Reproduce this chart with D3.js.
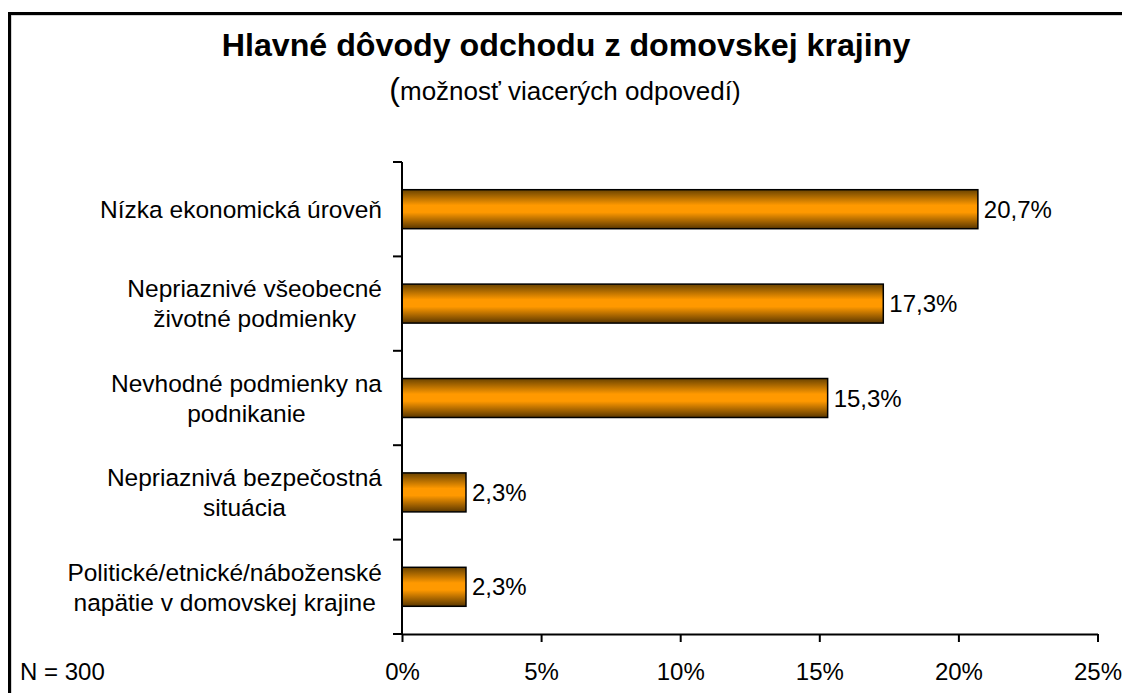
<!DOCTYPE html>
<html>
<head>
<meta charset="utf-8">
<script src="https://cdn.jsdelivr.net/npm/d3@7"></script>
<style>
    body { margin: 0; background: #fff; }
    text { font-family: Arial, "Liberation Sans", sans-serif; fill: #000; }
</style>
</head>
<body>
<div id="chart"></div>
<script>
const categories = [
    ["Nízka ekonomická úroveň"],
    ["Nepriaznivé všeobecné", "životné podmienky"],
    ["Nevhodné podmienky na", "podnikanie"],
    ["Nepriaznivá bezpečostná", "situácia"],
    ["Politické/etnické/náboženské", "napätie v domovskej krajine"]
];
const values = [20.7, 17.3, 15.3, 2.3, 2.3];
const xTicks = [0, 5, 10, 15, 20, 25];

const width = 1122, height = 693;
const svg = d3.select("#chart").append("svg")
    .attr("width", width)
    .attr("height", height);

// frame
svg.append("rect")
    .attr("x", 11).attr("y", 15)
    .attr("width", 1200).attr("height", 800)
    .attr("fill", "none")
    .attr("stroke", "#aaa")
    .attr("stroke-width", 1);
svg.append("rect")
    .attr("x", 9.5).attr("y", 13.5)
    .attr("width", 1200).attr("height", 800)
    .attr("fill", "none")
    .attr("stroke", "#000")
    .attr("stroke-width", 3);

const defs = svg.append("defs");
const grad = defs.append("linearGradient")
    .attr("id", "barGrad")
    .attr("x1", 0).attr("y1", 0).attr("x2", 0).attr("y2", 1);
grad.append("stop").attr("offset", "0%").attr("stop-color", "#6a4300");
grad.append("stop").attr("offset", "40%").attr("stop-color", "#ff9900");
grad.append("stop").attr("offset", "58%").attr("stop-color", "#ff9900");
grad.append("stop").attr("offset", "100%").attr("stop-color", "#5a3700");

const x = d3.scaleLinear()
    .domain([0, 25])
    .range([402, 1097.5]);

const p = 0.587;
const y = d3.scaleBand()
    .domain(d3.range(categories.length))
    .range([162, 634])
    .paddingInner(p)
    .paddingOuter(p / 2);

const skLocale = d3.formatLocale({decimal: ",", thousands: " ", grouping: [3], currency: ["", " €"]});
const fmt = skLocale.format(".1f");

// bars
svg.selectAll(".bar")
    .data(values)
    .enter().append("rect")
    .attr("class", "bar")
    .attr("x", x(0))
    .attr("y", (d, i) => y(i))
    .attr("width", d => x(d) - x(0))
    .attr("height", y.bandwidth())
    .attr("fill", "url(#barGrad)")
    .attr("stroke", "#000")
    .attr("stroke-width", 1.5);

// value labels
svg.selectAll(".val")
    .data(values)
    .enter().append("text")
    .attr("class", "val")
    .attr("x", d => x(d) + 6)
    .attr("y", (d, i) => y(i) + y.bandwidth() / 2)
    .attr("dy", "0.36em")
    .style("font-size", "24px")
    .text(d => fmt(d) + "%");

// y axis
const yAxis = svg.append("g");
yAxis.append("line")
    .attr("x1", x(0)).attr("x2", x(0))
    .attr("y1", y.range()[0]).attr("y2", y.range()[1])
    .attr("stroke", "#000").attr("stroke-width", 2);
yAxis.selectAll(".ytick")
    .data(d3.range(categories.length + 1))
    .enter().append("line")
    .attr("x1", x(0) - 9).attr("x2", x(0))
    .attr("y1", i => y.range()[0] + i * y.step())
    .attr("y2", i => y.range()[0] + i * y.step())
    .attr("stroke", "#000").attr("stroke-width", 2);

// category labels
const labelRight = 382;
categories.forEach((lines, i) => {
    const cy = y(i) + y.bandwidth() / 2;
    const g = svg.append("g");
    const lh = 30;
    const texts = g.selectAll("text")
        .data(lines)
        .enter().append("text")
        .attr("y", (d, j) => cy + (j - (lines.length - 1) / 2) * lh)
        .attr("dy", "0.36em")
        .attr("text-anchor", "middle")
        .style("font-size", "24.5px")
        .text(d => d);
    const maxW = d3.max(texts.nodes(), n => n.getComputedTextLength());
    texts.attr("x", labelRight - maxW / 2);
});

// x axis
const xAxis = svg.append("g")
    .attr("transform", "translate(0, 634)")
    .call(d3.axisBottom(x)
        .tickValues(xTicks)
        .tickFormat(d => d + "%")
        .tickSize(8)
        .tickSizeOuter(0)
        .tickPadding(21));
xAxis.select(".domain").attr("stroke", "#000").attr("stroke-width", 2);
xAxis.selectAll(".tick line").attr("stroke", "#000").attr("stroke-width", 2);
xAxis.selectAll(".tick text")
    .style("font-size", "24px")
    .style("font-family", "Arial, 'Liberation Sans', sans-serif")
    .attr("fill", "#000");

svg.append("text")
    .attr("x", 20)
    .attr("y", 680)
    .style("font-size", "24px")
    .text("N = 300");

// titles
svg.append("text")
    .attr("x", 566)
    .attr("y", 56)
    .attr("text-anchor", "middle")
    .style("font-size", "32.2px")
    .style("font-weight", "bold")
    .text("Hlavné dôvody odchodu z domovskej krajiny");

const sub = svg.append("text")
    .attr("x", 565)
    .attr("y", 100)
    .attr("text-anchor", "middle")
    .style("font-size", "26px");
sub.append("tspan").style("font-size", "32px").text("(");
sub.append("tspan").text("možnosť viacerých odpovedí)");
</script>
</body>
</html>
